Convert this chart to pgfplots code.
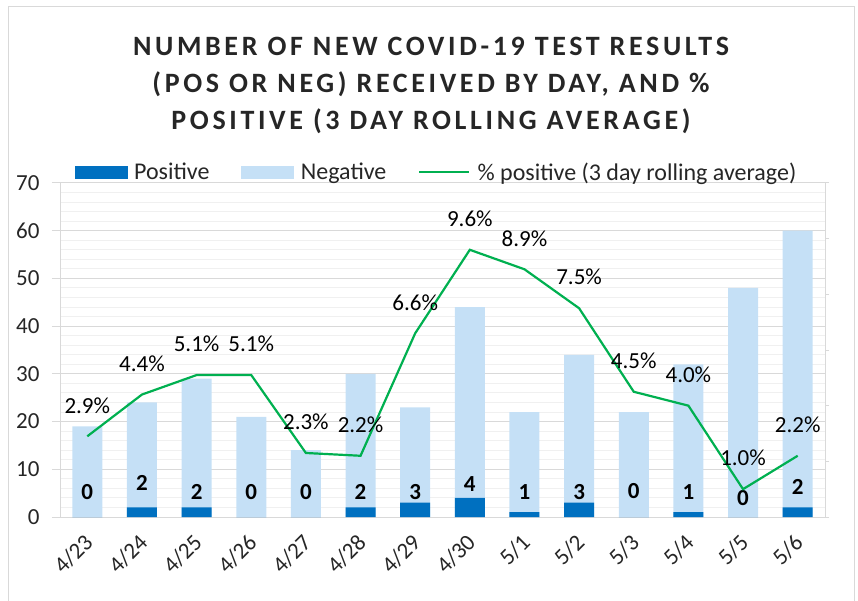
\documentclass[border=0pt]{standalone}
\usepackage{pgfplots}
\pgfplotsset{compat=1.18}
\usepackage{pgfplotstable}
\usepackage{fontspec}
\setmainfont{Carlito}
\newfontfamily\titlefont[LetterSpace=13]{Carlito}

\definecolor{posblue}{RGB}{0,112,192}
\definecolor{negblue}{RGB}{197,224,246}
\definecolor{lgreen}{RGB}{0,176,80}
\definecolor{gridmaj}{RGB}{217,217,217}
\definecolor{gridmin}{RGB}{240,240,240}
\definecolor{txt}{RGB}{38,38,38}

\pgfplotstableread{
x day pos total laby
0 4/23 0 19 5.2
1 4/24 2 24 7.1
2 4/25 2 29 5.2
3 4/26 0 21 5.2
4 4/27 0 14 5.2
5 4/28 2 30 5.2
6 4/29 3 23 5.2
7 4/30 4 44 7.0
8 5/1 1 22 5.2
9 5/2 3 34 5.2
10 5/3 0 22 5.5
11 5/4 1 32 5.2
12 5/5 0 48 4.0
13 5/6 2 60 6.3
}\bars

\pgfplotstableread{
x pct
0 2.9
1 4.4
2 5.1
3 5.1
4 2.3
5 2.2
6 6.6
7 9.6
8 8.9
9 7.5
10 4.5
11 4.0
12 1.0
13 2.2
}\pcts

\begin{document}
\begin{tikzpicture}[x=1pt,y=1pt]
\useasboundingbox (0,0) rectangle (858,-601);
\draw[gridmaj, line width=1pt] (8,-601) -- (8,-7) -- (854,-7) -- (854,-601);
\node[font=\titlefont\bfseries\fontsize{28}{32}\selectfont, text=txt] at (431,-46) {NUMBER OF NEW COVID-19 TEST RESULTS};
\node[font=\titlefont\bfseries\fontsize{28}{32}\selectfont, text=txt] at (431,-84) {(POS OR NEG) RECEIVED BY DAY, AND \%};
\node[font=\titlefont\bfseries\fontsize{28}{32}\selectfont, text=txt] at (431,-121) {POSITIVE (3 DAY ROLLING AVERAGE)};

\begin{axis}[
  at={(60pt,-517pt)}, anchor=south west, scale only axis,
  width=765pt, height=334pt,
  xmin=-0.5, xmax=13.5, ymin=0, ymax=70,
  /pgf/number format/assume math mode=true,
  xtick={0,...,13}, xticklabels from table={\bars}{day},
  xtick style={draw=none},
  minor xtick={-0.5,0.5,...,13.5},
  minor x tick style={gridmaj, line width=1pt},
  ytick={0,10,...,70}, minor y tick num=4,
  minor y tick style={draw=none},
  ytick style={gridmaj, line width=1pt},
  major tick length=8pt, minor tick length=6pt,
  tick align=outside,
  ymajorgrids, yminorgrids,
  major grid style={gridmaj, line width=1pt},
  minor grid style={gridmin, line width=1pt},
  axis x line*=bottom, axis y line*=left,
  axis line style={gridmaj, line width=1pt},
  ticklabel style={font=\fontsize{23}{25}\selectfont, text=txt},
  yticklabel style={xshift=-9pt},
  xticklabel style={yshift=-11pt, xshift=4pt, rotate=45, anchor=east},
  legend style={at={(0.5,1)}, anchor=center, yshift=11pt, xshift=-6pt,
    draw=none, fill=none, font=\fontsize{24}{26}\selectfont, text=txt,
    legend columns=3,
    /tikz/every odd column/.append style={column sep=5pt},
    /tikz/every even column/.append style={column sep=30pt}},
  clip=false,
]
\addplot[ybar, bar width=30pt, bar shift=0pt, fill=negblue, draw=none, forget plot]
  table[x=x, y=total] \bars;
\addplot[ybar, bar width=30pt, bar shift=0pt, fill=posblue, draw=none, forget plot]
  table[x=x, y=pos] \bars;
\addplot[draw=none, mark=none, forget plot, point meta=explicit symbolic,
  nodes near coords={\pgfplotspointmeta},
  nodes near coords style={anchor=center, font=\bfseries\fontsize{23}{25}\selectfont, text=black}]
  table[x=x, y=laby, meta=pos] \bars;
\addlegendimage{legend image code/.code={\fill[posblue] (0pt,-6pt) rectangle (52pt,6pt);}}
\addlegendentry{Positive}
\addlegendimage{legend image code/.code={\fill[negblue] (0pt,-6pt) rectangle (52pt,6pt);}}
\addlegendentry{Negative}
\addlegendimage{legend image code/.code={\draw[lgreen, line width=2.2pt] (0pt,0pt) -- (50pt,0pt);}}
\addlegendentry{\% positive (3 day rolling average)}
\end{axis}

\begin{axis}[
  at={(60pt,-517pt)}, anchor=south west, scale only axis,
  width=765pt, height=334pt,
  xmin=-0.5, xmax=13.5, ymin=0, ymax=12,
  axis x line=none, axis y line*=right,
  ytick={0,2,...,12}, yticklabels={},
  tick align=outside, major tick length=4pt,
  ytick style={gridmaj, line width=1pt},
  axis line style={gridmaj, line width=1pt},
  clip=false,
]
\addplot[lgreen, line width=2.2pt, mark=none, point meta=explicit symbolic,
  nodes near coords={\pgfplotspointmeta\%},
  nodes near coords style={anchor=center, yshift=31pt, font=\fontsize{23}{25}\selectfont, text=black}]
  table[x=x, y=pct, meta=pct] \pcts;
\end{axis}
\end{tikzpicture}
\end{document}
